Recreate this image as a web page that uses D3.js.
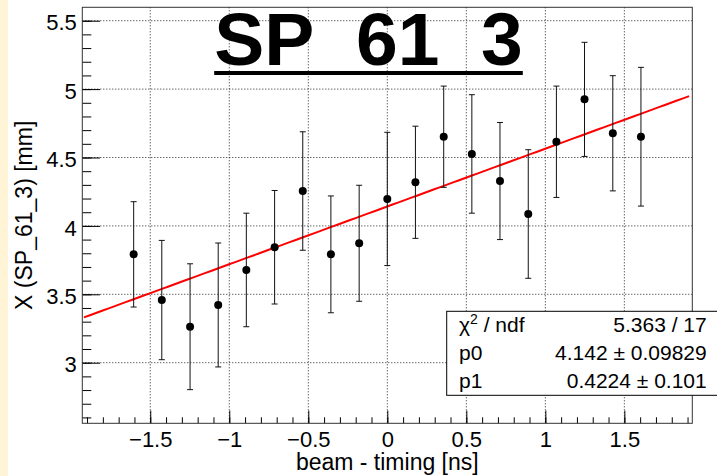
<!DOCTYPE html>
<html>
<head>
<meta charset="utf-8">
<script src="https://cdnjs.cloudflare.com/ajax/libs/d3/7.8.5/d3.min.js"></script>
<style>
	body { margin: 0; background: #fff; }
	svg { display: block; font-family: "Liberation Sans", Arial, Helvetica, sans-serif; }
	.axis path { display: none; }
	.axis line { stroke: #000; }
	.axis text { fill: #000; font-size: 22px; }
	.grid line { stroke: #222; stroke-dasharray: 1,2; }
</style>
</head>
<body>
<svg width="717" height="476"></svg>
<script>
// points of the graph
const xVals = [-1.605, -1.427, -1.248, -1.070, -0.892, -0.713, -0.535, -0.357, -0.178, 0, 0.178, 0.357, 0.535, 0.713, 0.892, 1.070, 1.248, 1.427, 1.605];
const yVals = [3.792, 3.458, 3.263, 3.422, 3.678, 3.844, 4.255, 3.792, 3.873, 4.197, 4.319, 4.652, 4.526, 4.328, 4.087, 4.615, 4.925, 4.677, 4.652];
const yErrs = [0.385, 0.436, 0.460, 0.453, 0.415, 0.415, 0.433, 0.427, 0.424, 0.487, 0.410, 0.370, 0.433, 0.428, 0.470, 0.407, 0.417, 0.421, 0.507];

// linear fit pol1
const p0 = 4.142, p1 = 0.4224;
const fitRange = [-1.92, 1.91];

// axes
const xTicks = [-1.5, -1, -0.5, 0, 0.5, 1, 1.5];
const yTicks = [3, 3.5, 4, 4.5, 5, 5.5];
const xDomain = [-1.93, 1.93];
const yDomain = [2.557, 5.598];

// stats box
const statNames = ["p0", "p1"];
const statValues = ["5.363 / 17", "4.142 \u00b1 0.09829", "0.4224 \u00b1 0.101"];

const title = "SP_61_3";
const xTitle = "beam - timing [ns]";
const yTitle = "X (SP_61_3) [mm]";

let svg = d3.select("svg"),
	frame = {left: 82.3, right: 692.3, top: 7.3, bottom: 423.3};

// canvas strip at the left
svg.append("rect").attr("x", 0).attr("y", 0).attr("width", 8).attr("height", 476).style("fill", "#fff4d6");

let x = d3.scaleLinear().domain(xDomain).range([frame.left, frame.right]),
	y = d3.scaleLinear().domain(yDomain).range([frame.bottom, frame.top]);

let minor = function(lo, hi) {
	let out = [];
	for (let i = Math.ceil(lo * 10 - 1e-6); i <= Math.floor(hi * 10 + 1e-6); i++) out.push(i / 10);
	return out;
};

//grid
svg.append("g").attr("class", "grid")
	.selectAll("line").data(xTicks).enter().append("line")
	.attr("x1", d => x(d)).attr("x2", d => x(d))
	.attr("y1", frame.top).attr("y2", frame.bottom);
svg.append("g").attr("class", "grid")
	.selectAll("line").data(yTicks).enter().append("line")
	.attr("y1", d => y(d)).attr("y2", d => y(d))
	.attr("x1", frame.left).attr("x2", frame.right);

//x axis
let fmt = d3.format("~g");
svg.append("g").attr("class", "axis")
	.attr("transform", "translate(0," + frame.bottom + ")")
	.call(d3.axisBottom(x).tickValues(minor(xDomain[0], xDomain[1])).tickSize(-6).tickFormat(""));
svg.append("g").attr("class", "axis")
	.attr("transform", "translate(0," + frame.bottom + ")")
	.call(d3.axisBottom(x).tickValues(xTicks).tickSize(-12.7).tickPadding(7.6).tickFormat(fmt));

//y axis
svg.append("g").attr("class", "axis")
	.attr("transform", "translate(" + frame.left + ",0)")
	.call(d3.axisLeft(y).tickValues(minor(yDomain[0], yDomain[1])).tickSize(-9).tickFormat(""));
svg.append("g").attr("class", "axis y-major")
	.attr("transform", "translate(" + frame.left + ",0)")
	.call(d3.axisLeft(y).tickValues(yTicks).tickSize(-17.7).tickPadding(5.5).tickFormat(fmt));
svg.selectAll(".y-major text").attr("dy", "0.42em");

//frame
svg.append("rect")
	.attr("x", frame.left).attr("y", frame.top)
	.attr("width", frame.right - frame.left).attr("height", frame.bottom - frame.top)
	.style("fill", "none").style("stroke", "#333").style("stroke-width", 1);

//axis titles
svg.append("text")
	.attr("x", (frame.left + frame.right) / 2).attr("y", 470)
	.attr("text-anchor", "middle").style("font-size", "23px")
	.text(xTitle);
svg.append("text")
	.attr("transform", "translate(32," + (frame.top + frame.bottom) / 2 + ") rotate(-90)")
	.attr("text-anchor", "middle").style("font-size", "23px")
	.text(yTitle);

//fit
let fitX = d3.range(fitRange[0], fitRange[1] + 1e-9, (fitRange[1] - fitRange[0]) / 100);
svg.append("path")
	.datum(fitX)
	.attr("d", d3.line().x(d => x(d)).y(d => y(p0 + p1 * d)))
	.style("fill", "none").style("stroke", "#ff0000").style("stroke-width", 2);

//error bars
let pts = xVals.map((v, i) => ({x: v, y: yVals[i], e: yErrs[i]}));
let bars = svg.append("g").selectAll("g").data(pts).enter().append("g")
	.style("stroke", "#111").style("stroke-width", 1);
bars.append("line")
	.attr("x1", d => x(d.x)).attr("x2", d => x(d.x))
	.attr("y1", d => y(d.y + d.e)).attr("y2", d => y(d.y - d.e));
bars.append("line")
	.attr("x1", d => x(d.x) - 3).attr("x2", d => x(d.x) + 3)
	.attr("y1", d => y(d.y + d.e)).attr("y2", d => y(d.y + d.e));
bars.append("line")
	.attr("x1", d => x(d.x) - 3).attr("x2", d => x(d.x) + 3)
	.attr("y1", d => y(d.y - d.e)).attr("y2", d => y(d.y - d.e));

//markers
svg.append("g").selectAll("circle").data(pts).enter().append("circle")
	.attr("cx", d => x(d.x)).attr("cy", d => y(d.y)).attr("r", 4)
	.style("fill", "#000");

//title
let t = svg.append("text")
	.attr("x", 368.5).attr("y", 65)
	.attr("text-anchor", "middle")
	.style("font-size", "75px").style("font-weight", "bold")
	.text(title);
let tb = t.node().getBBox();
svg.append("rect")
	.attr("x", tb.x).attr("y", 71)
	.attr("width", tb.width).attr("height", 4)
	.style("fill", "#000");

//stats box
let box = svg.append("g").style("font-size", "21px");
box.append("rect")
	.attr("x", 446.7).attr("y", 311.3).attr("width", 290).attr("height", 84)
	.style("fill", "#fff").style("stroke", "#000").style("stroke-width", 1);
let rowY = [331.7, 360, 388.3];
let chi = box.append("text").attr("x", 459).attr("y", rowY[0]);
chi.append("tspan").text("\u03c7");
chi.append("tspan").attr("dy", -8).style("font-size", "14px").text("2");
chi.append("tspan").attr("dy", 8).text(" / ndf");
box.selectAll(".sname").data(statNames).enter().append("text")
	.attr("class", "sname")
	.attr("x", 459).attr("y", (d, i) => rowY[i + 1])
	.text(d => d);
box.selectAll(".sval").data(statValues).enter().append("text")
	.attr("class", "sval")
	.attr("x", 706.7).attr("y", (d, i) => rowY[i])
	.attr("text-anchor", "end")
	.text(d => d);
</script>
</body>
</html>
